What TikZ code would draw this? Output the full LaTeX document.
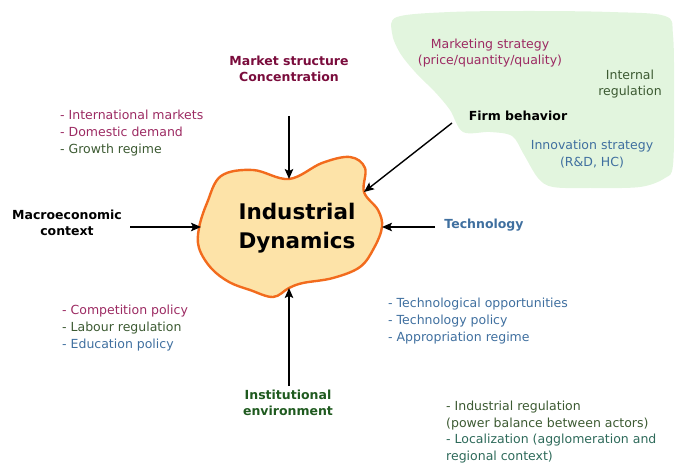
\documentclass[tikz,border=0pt]{standalone}
\usepackage{fontspec}
\setmainfont{DejaVu Sans}
\usetikzlibrary{arrows.meta}
\definecolor{marb}{HTML}{7A0C3C}
\definecolor{mar}{HTML}{9C2A62}
\definecolor{dgr}{HTML}{3C5A32}
\definecolor{blu}{HTML}{3F6F9F}
\definecolor{grb}{HTML}{1F5A1F}
\definecolor{teal}{HTML}{2E6A5A}
\definecolor{cloudfill}{HTML}{E2F5DE}
\definecolor{blobfill}{HTML}{FDE3A8}
\definecolor{blobline}{HTML}{F26B1D}
\tikzset{
  lab/.style={font=\fontsize{12.5}{16.5}\selectfont\bfseries, align=center, inner sep=0pt},
  lst/.style={font=\fontsize{12.5}{16.8}\selectfont, align=left, inner sep=0pt, anchor=west},
  ctr/.style={font=\fontsize{12.5}{16.8}\selectfont, align=center, inner sep=0pt},
  arr/.style={line width=1.4pt, -{Stealth[length=10pt,width=8.5pt,inset=2pt]}}
}
\begin{document}
\begin{tikzpicture}[x=1pt,y=-1pt]
\useasboundingbox (0,0) rectangle (675,465);
% green cloud
\fill[cloudfill] plot[smooth cycle, tension=0.55] coordinates {
 (397,17) (450,12) (530,11) (610,12) (665,16) (673,35) (674,100) (673,165) (665,178)
 (640,187) (590,188) (553,187) (538,178) (523,153) (512,136) (490,132) (463,132)
 (450,110) (435,92) (416,73) (400,53) (392,33)};
% blob
\filldraw[fill=blobfill, draw=blobline, line width=2.4pt] plot[smooth cycle, tension=0.6] coordinates {
 (221,176) (253,170) (289,179) (322,163) (350,157) (365,168) (364,192)
 (378,210) (382,227) (374,248) (360,267) (333,278) (303,283) (289,288) (273,297)
 (250,290) (229,282) (211,268) (199,248) (199,228) (207,203)};
\coordinate (tTop) at (289,179);
\coordinate (tFirm) at (364,192);
\coordinate (tLeft) at (201,227);
\coordinate (tRight) at (382,227);
\coordinate (tBot) at (289,288);
\node[font=\fontsize{21.5}{29}\selectfont\bfseries, align=center, inner sep=0pt] (id) at (297,228) {Industrial\\Dynamics};
% main labels
\node[lab, text=marb] (ms) at (289,69) {Market structure\\Concentration};
\node[lab, text=black] (fb) at (518,116) {Firm behavior};
\node[lab, text=black] (mc) at (67,223) {Macroeconomic\\context};
\node[lab, text=blu] (te) at (484,225) {Technology};
\node[lab, text=grb] (ie) at (288,403) {Institutional\\environment};
% arrows
\coordinate (sMs) at (289,116);
\coordinate (sFb) at (452,123);
\coordinate (sMc) at (130,227);
\coordinate (sTe) at (435,227);
\coordinate (sIe) at (289,386);
\draw[arr] (sMs) -- (tTop);
\draw[arr] (sFb) -- (tFirm);
\draw[arr] (sMc) -- (tLeft);
\draw[arr] (sTe) -- (tRight);
\draw[arr] (sIe) -- (tBot);
% lists
\node[lst] (l1) at (60,133) {\color{mar}- International markets\\\color{mar}- Domestic demand\\\color{dgr}- Growth regime};
\node[ctr, text=mar] (mk) at (490,53) {Marketing strategy\\(price/quantity/quality)};
\node[ctr, text=dgr] (ir) at (630,84) {Internal\\regulation};
\node[ctr, text=blu] (is) at (592,154) {Innovation strategy\\(R\&D, HC)};
\node[lst] (l2) at (62,328) {\color{mar}- Competition policy\\\color{dgr}- Labour regulation\\\color{blu}- Education policy};
\node[lst] (l3) at (388,321) {\color{blu}- Technological opportunities\\\color{blu}- Technology policy\\\color{blu}- Appropriation regime};
\node[lst] (l4) at (446,432) {\color{dgr}- Industrial regulation\\\color{dgr}(power balance between actors)\\\color{teal}- Localization (agglomeration and\\\color{teal}regional context)};
\end{tikzpicture}
\end{document}
